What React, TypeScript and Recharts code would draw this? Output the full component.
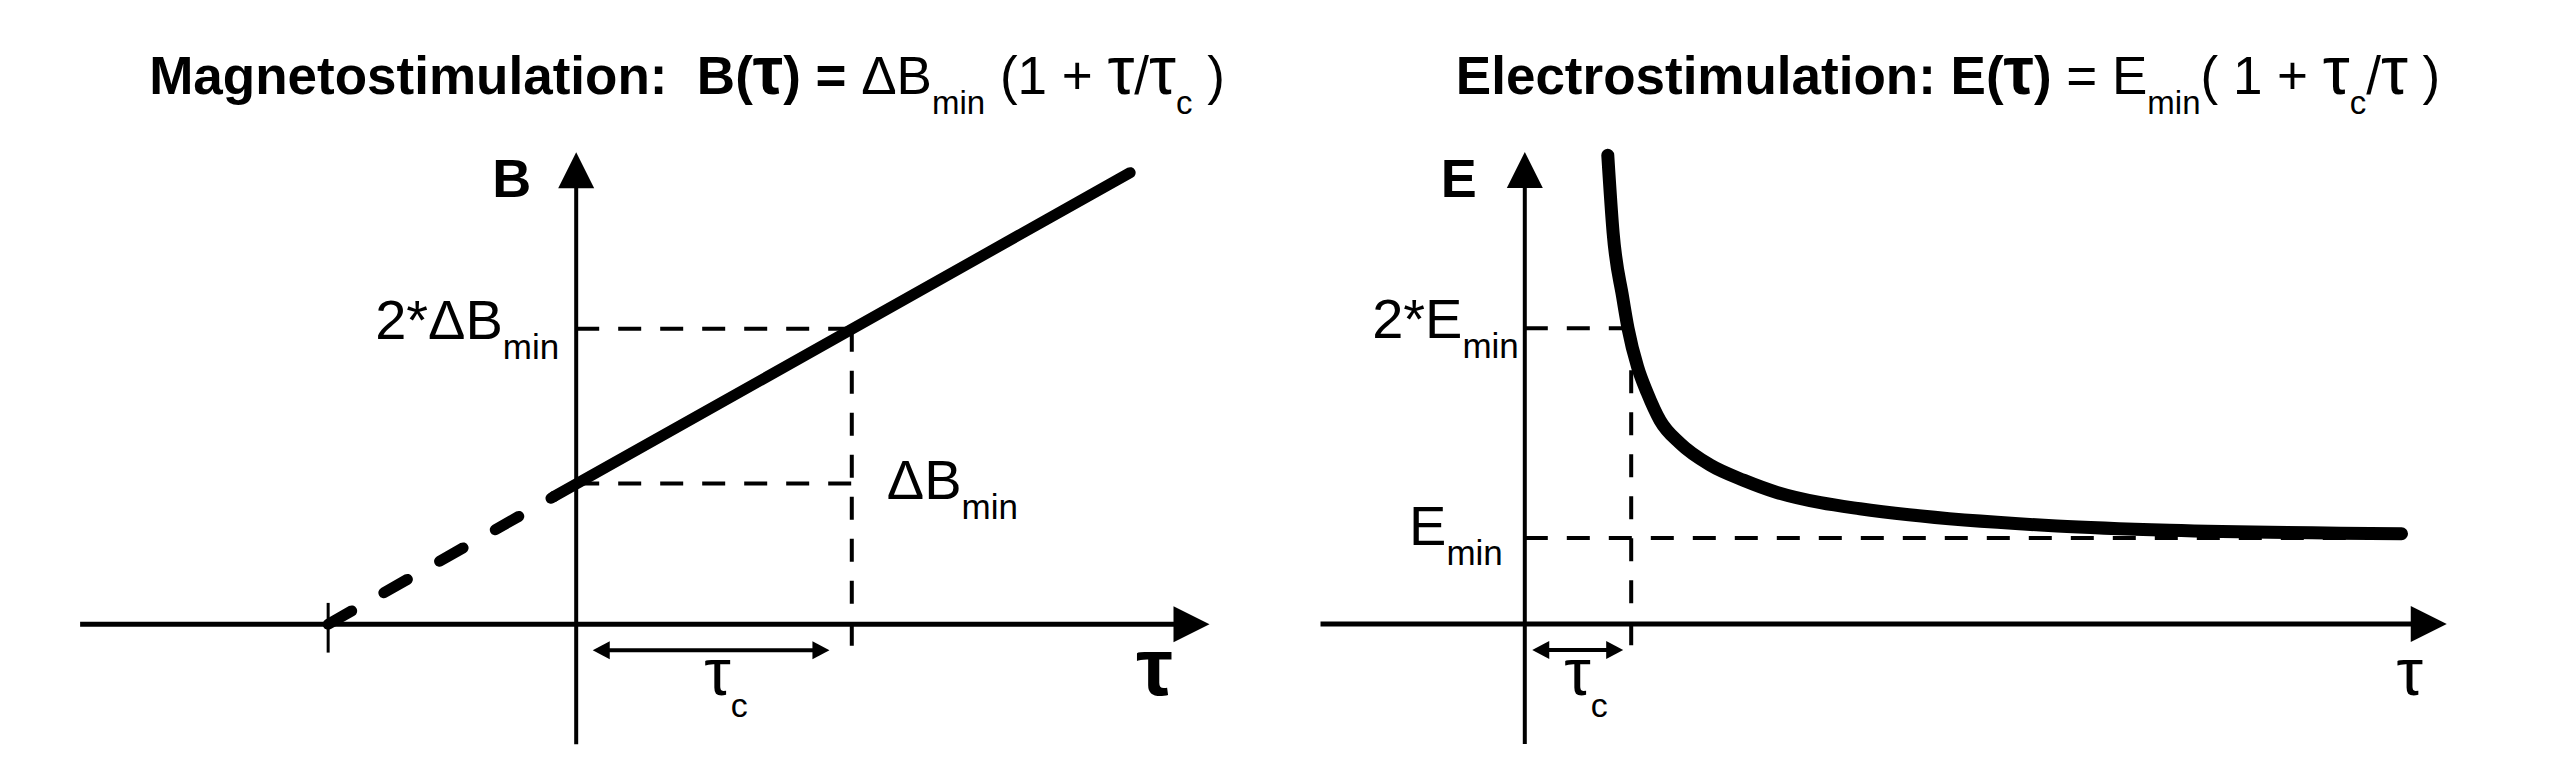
import React from "react";
import { ComposedChart, Line, ReferenceDot, ReferenceLine, XAxis, YAxis } from "recharts";

const FONT = '"Liberation Sans", Arial, Helvetica, sans-serif';
const INK = "#000000";

// left panel: B(τ) = ΔBmin (1 + τ/τc) — τ in units of τc, B
const magExtrapTau = [-0.9, -0.08];
const magExtrapB = [0, 0.9];
const magTau = [-0.08, 2.01];
const magB = [0.9, 3.18];
const magMinLevel = 0.99;
const magTwiceLevel = 2.08;
const magTickTau = -0.9;

// right panel: E(τ) = Emin (1 + τc/τ)
const elecTau = [0.78, 0.83, 0.92, 0.97, 1.06, 1.15, 1.27, 1.46, 1.74, 2.06, 2.37, 2.78, 3.15, 3.61, 5.0, 6.06, 8.24];
const elecE = [5.45, 4.55, 3.8, 3.44, 2.99, 2.69, 2.37, 2.1, 1.85, 1.67, 1.53, 1.41, 1.34, 1.27, 1.14, 1.09, 1.05];
const elecMinLevel = 1;
const elecTwiceLevel = 3.44;

const tauC = 1;

const magExtrap = magExtrapTau.map((t, i) => ({ t, b: magExtrapB[i] }));
const magLine = magTau.map((t, i) => ({ t, b: magB[i] }));
const elecLine = elecTau.map((t, i) => ({ t, e: elecE[i] }));

type HeadOpts = { start?: boolean; end?: boolean; len: number; half: number };

function arrowShape({ start = false, end = false, len, half }: HeadOpts) {
  return (p: any) => {
    const { x1, y1, x2, y2, stroke, strokeWidth } = p;
    const d = Math.hypot(x2 - x1, y2 - y1) || 1;
    const ux = (x2 - x1) / d;
    const uy = (y2 - y1) / d;
    const head = (x: number, y: number, sx: number, sy: number) => {
      const bx = x - sx * len;
      const by = y - sy * len;
      return `${x},${y} ${bx - sy * half},${by + sx * half} ${bx + sy * half},${by - sx * half}`;
    };
    const ax = start ? x1 + ux * len * 0.8 : x1;
    const ay = start ? y1 + uy * len * 0.8 : y1;
    const bx = end ? x2 - ux * len * 0.8 : x2;
    const by = end ? y2 - uy * len * 0.8 : y2;
    return (
      <g>
        <line x1={ax} y1={ay} x2={bx} y2={by} stroke={stroke} strokeWidth={strokeWidth} />
        {end && <polygon points={head(x2, y2, ux, uy)} fill={stroke} />}
        {start && <polygon points={head(x1, y1, -ux, -uy)} fill={stroke} />}
      </g>
    );
  };
}

function note(content: React.ReactNode, dx: number, dy: number, anchor: "start" | "middle" | "end", size = 56, weight = "normal") {
  return (p: any) => (
    <text
      x={p.cx + dx}
      y={p.cy + dy}
      textAnchor={anchor}
      fontFamily={FONT}
      fontSize={size}
      fontWeight={weight}
      fill={INK}
      style={{ whiteSpace: "pre" }}
    >
      {content}
    </text>
  );
}

const dashed = { stroke: INK, strokeWidth: 4, strokeDasharray: "23 19", ifOverflow: "visible" as const };
const axisArrow = arrowShape({ end: true, len: 36, half: 18 });
const spanArrow = arrowShape({ start: true, end: true, len: 17, half: 9 });

type PanelProps = {
  left: number;
  top: number;
  width: number;
  height: number;
  xDomain: [number, number];
  yDomain: [number, number];
  children: React.ReactNode;
};

function Panel({ left, top, width, height, xDomain, yDomain, children }: PanelProps) {
  return (
    <div style={{ position: "absolute", left, top, width, height }}>
      <ComposedChart width={width} height={height} margin={{ top: 0, right: 0, bottom: 0, left: 0 }}>
        <XAxis type="number" dataKey="t" domain={xDomain} allowDataOverflow hide />
        <YAxis type="number" domain={yDomain} allowDataOverflow hide />
        {children}
      </ComposedChart>
    </div>
  );
}

function MagnetoPanel() {
  // 275.6 px per τc, 142 px per unit of B
  return (
    <Panel left={24.5} top={112.8} width={1240.2} height={639} xDomain={[-2, 2.5]} yDomain={[-0.9, 3.6]}>
      <ReferenceLine segment={[{ x: 0, y: magTwiceLevel }, { x: tauC, y: magTwiceLevel }]} {...dashed} />
      <ReferenceLine segment={[{ x: 0, y: magMinLevel }, { x: tauC, y: magMinLevel }]} {...dashed} />
      <ReferenceLine segment={[{ x: tauC, y: magTwiceLevel }, { x: tauC, y: -0.17 }]} {...dashed} />
      <ReferenceLine segment={[{ x: 0, y: -0.845 }, { x: 0, y: 3.324 }]} stroke={INK} strokeWidth={4} ifOverflow="visible" shape={axisArrow} />
      <ReferenceLine segment={[{ x: -1.8, y: 0 }, { x: 2.298, y: 0 }]} stroke={INK} strokeWidth={5} ifOverflow="visible" shape={axisArrow} />
      <ReferenceLine segment={[{ x: magTickTau, y: 0.15 }, { x: magTickTau, y: -0.2 }]} stroke={INK} strokeWidth={3} ifOverflow="visible" />
      <ReferenceLine segment={[{ x: 0.06, y: -0.183 }, { x: 0.919, y: -0.183 }]} stroke={INK} strokeWidth={4} ifOverflow="visible" shape={spanArrow} />
      <Line data={magExtrap} dataKey="b" type="linear" stroke={INK} strokeWidth={11} strokeDasharray="27 37" strokeLinecap="round" dot={false} activeDot={false} isAnimationActive={false} />
      <Line data={magLine} dataKey="b" type="linear" stroke={INK} strokeWidth={11} strokeLinecap="round" dot={false} activeDot={false} isAnimationActive={false} />
      <ReferenceDot x={0} y={3.324} r={0} ifOverflow="visible" shape={note("B", -45, 45, "end", 54, "bold")} />
      <ReferenceDot x={2.298} y={0} r={0} ifOverflow="visible" shape={note("τ", -55, 71, "middle", 82, "bold")} />
      <ReferenceDot
        x={0}
        y={magTwiceLevel}
        r={0}
        ifOverflow="visible"
        shape={note(
          <>
            <tspan>2*ΔB</tspan>
            <tspan fontSize={35} dy={20}>min</tspan>
          </>,
          -17,
          10,
          "end",
        )}
      />
      <ReferenceDot
        x={tauC}
        y={magMinLevel}
        r={0}
        ifOverflow="visible"
        shape={note(
          <>
            <tspan>ΔB</tspan>
            <tspan fontSize={35} dy={20}>min</tspan>
          </>,
          35,
          15,
          "start",
        )}
      />
      <ReferenceDot
        x={tauC / 2}
        y={0}
        r={0}
        ifOverflow="visible"
        shape={note(
          <>
            <tspan fontSize={67}>τ</tspan>
            <tspan fontSize={34} dy={22}>c</tspan>
          </>,
          12,
          71,
          "middle",
        )}
      />
    </Panel>
  );
}

function ElectroPanel() {
  // 106.4 px per τc, 86 px per Emin
  return (
    <Panel left={1311.8} top={108} width={1223.6} height={645} xDomain={[-2, 9.5]} yDomain={[-1.5, 6]}>
      <ReferenceLine segment={[{ x: 0, y: elecTwiceLevel }, { x: 0.97, y: elecTwiceLevel }]} {...dashed} />
      <ReferenceLine segment={[{ x: 0, y: elecMinLevel }, { x: 8.24, y: elecMinLevel }]} {...dashed} />
      <ReferenceLine segment={[{ x: tauC, y: elecTwiceLevel }, { x: tauC, y: -0.28 }]} {...dashed} />
      <ReferenceLine segment={[{ x: 0, y: -1.395 }, { x: 0, y: 5.488 }]} stroke={INK} strokeWidth={4} ifOverflow="visible" shape={axisArrow} />
      <ReferenceLine segment={[{ x: -1.92, y: 0 }, { x: 8.665, y: 0 }]} stroke={INK} strokeWidth={5} ifOverflow="visible" shape={axisArrow} />
      <ReferenceLine segment={[{ x: 0.07, y: -0.302 }, { x: 0.925, y: -0.302 }]} stroke={INK} strokeWidth={4} ifOverflow="visible" shape={spanArrow} />
      <Line data={elecLine} dataKey="e" type="monotone" stroke={INK} strokeWidth={13} strokeLinecap="round" dot={false} activeDot={false} isAnimationActive={false} />
      <ReferenceDot x={0} y={5.488} r={0} ifOverflow="visible" shape={note("E", -48, 45, "end", 54, "bold")} />
      <ReferenceDot x={8.665} y={0} r={0} ifOverflow="visible" shape={note("τ", -37, 71, "middle", 67)} />
      <ReferenceDot
        x={0}
        y={elecTwiceLevel}
        r={0}
        ifOverflow="visible"
        shape={note(
          <>
            <tspan>2*E</tspan>
            <tspan fontSize={35} dy={20}>min</tspan>
          </>,
          -6,
          10,
          "end",
        )}
      />
      <ReferenceDot
        x={0}
        y={elecMinLevel}
        r={0}
        ifOverflow="visible"
        shape={note(
          <>
            <tspan>E</tspan>
            <tspan fontSize={35} dy={20}>min</tspan>
          </>,
          -22,
          7,
          "end",
        )}
      />
      <ReferenceDot
        x={tauC / 2}
        y={0}
        r={0}
        ifOverflow="visible"
        shape={note(
          <>
            <tspan fontSize={67}>τ</tspan>
            <tspan fontSize={34} dy={22}>c</tspan>
          </>,
          8,
          71,
          "middle",
        )}
      />
    </Panel>
  );
}

function Titles() {
  const sub = { fontSize: 33 };
  return (
    <svg width={2550} height={130} style={{ position: "absolute", left: 0, top: 0 }}>
      <text x={687} y={94} textAnchor="middle" fontFamily={FONT} fontSize={53} fill={INK} style={{ whiteSpace: "pre" }}>
        <tspan fontWeight="bold">Magnetostimulation:  B(</tspan>
        <tspan fontWeight="bold" fontSize={68}>τ</tspan>
        <tspan fontWeight="bold">) = </tspan>
        <tspan>ΔB</tspan>
        <tspan {...sub} dy={20}>min</tspan>
        <tspan dy={-20}> (1 + </tspan>
        <tspan fontSize={68}>τ</tspan>
        <tspan>/</tspan>
        <tspan fontSize={68}>τ</tspan>
        <tspan {...sub} dy={20}>c</tspan>
        <tspan dy={-20}> )</tspan>
      </text>
      <text x={1948} y={94} textAnchor="middle" fontFamily={FONT} fontSize={53} fill={INK} style={{ whiteSpace: "pre" }}>
        <tspan fontWeight="bold">Electrostimulation: E(</tspan>
        <tspan fontWeight="bold" fontSize={68}>τ</tspan>
        <tspan fontWeight="bold">)</tspan>
        <tspan> = E</tspan>
        <tspan {...sub} dy={20}>min</tspan>
        <tspan dy={-20}>( 1 + </tspan>
        <tspan fontSize={68}>τ</tspan>
        <tspan {...sub} dy={20}>c</tspan>
        <tspan dy={-20}>/</tspan>
        <tspan fontSize={68}>τ</tspan>
        <tspan> )</tspan>
      </text>
    </svg>
  );
}

export default function App() {
  return (
    <div style={{ position: "absolute", left: 0, top: 0, width: 2550, height: 770, background: "#ffffff", overflow: "hidden" }}>
      <Titles />
      <MagnetoPanel />
      <ElectroPanel />
    </div>
  );
}
